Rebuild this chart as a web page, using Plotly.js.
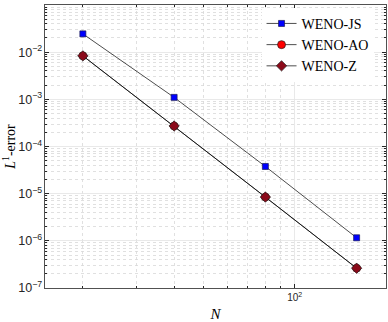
<!DOCTYPE html>
<html><head><meta charset="utf-8">
<script src="https://cdn.plot.ly/plotly-3.0.1.min.js"></script>
<style>body{margin:0;padding:0;background:#fff}#plot{width:388px;height:322px}</style>
</head><body><div id="plot"></div>
<script>
const N = [20, 40, 80, 160];
const errJS = [0.0244, 1.10e-3, 3.77e-5, 1.16e-6];
const errAO = [8.35e-3, 2.72e-4, 8.47e-6, 2.63e-7];
const errZ  = [8.35e-3, 2.72e-4, 8.47e-6, 2.63e-7];
const seriesNames = ['WENO-JS', 'WENO-AO', 'WENO-Z'];

const traces = [
  {x: N, y: errJS, name: seriesNames[0], mode: 'lines+markers',
   line: {color: '#000', width: 0.7},
   marker: {symbol: 'square', size: 6, color: '#0000ff', line: {color: '#1a1a55', width: 0.7}}},
  {x: N, y: errAO, name: seriesNames[1], mode: 'lines+markers',
   line: {color: '#000', width: 0.7},
   marker: {symbol: 'circle', size: 8, color: '#ff0000', line: {color: '#222', width: 0.7}}},
  {x: N, y: errZ, name: seriesNames[2], mode: 'lines+markers',
   line: {color: '#000', width: 0.7},
   marker: {symbol: 'diamond', size: 8, color: '#8b0a1a', line: {color: '#222', width: 0.7}}}
];

const tickFont = {family: 'Liberation Sans, Arial, sans-serif', size: 10, color: '#262626'};
const layout = {
  width: 388, height: 322,
  margin: {l: 45, r: 2, t: 5, b: 34},
  paper_bgcolor: '#fff', plot_bgcolor: '#fff',
  showlegend: true,
  legend: {x: 0.635, y: 0.99, xanchor: 'left', yanchor: 'top', bgcolor: '#fff',
           borderwidth: 0, font: {family: 'Liberation Serif, serif', size: 14, color: '#000'},
           itemwidth: 30, tracegroupgap: 0},
  xaxis: {type: 'log', range: [Math.log10(15), Math.log10(200)],
          tickvals: [100], ticktext: ['10<sup>2</sup>'],
          ticks: 'inside', ticklen: 4, tickcolor: '#262626',
          showline: true, linecolor: '#262626', linewidth: 0.8, mirror: 'allticks',
          showgrid: true, gridcolor: '#e3e3e3', gridwidth: 0.8,
          zeroline: false, tickfont: tickFont,
          minor: {tickvals: [20,30,40,50,60,70,80,90,200], ticks: 'inside', ticklen: 2,
                  tickcolor: '#262626', showgrid: true, gridcolor: '#d8d8d8', griddash: 'dot', gridwidth: 0.8},
          title: {text: '<i>N</i>', font: {family: 'Liberation Serif, serif', size: 15, color: '#000'}, standoff: 6}},
  yaxis: {type: 'log', range: [-7, -1], dtick: 1, exponentformat: 'power',
          ticks: 'inside', ticklen: 4, tickcolor: '#262626',
          showline: true, linecolor: '#262626', linewidth: 0.8, mirror: 'allticks',
          showgrid: true, gridcolor: '#e3e3e3', gridwidth: 0.8,
          zeroline: false, tickfont: tickFont,
          minor: {dtick: 'D1', ticks: 'inside', ticklen: 2, tickcolor: '#262626',
                  showgrid: true, gridcolor: '#d8d8d8', griddash: 'dot', gridwidth: 0.8},
          title: {text: '<i>L</i><sup>1</sup>-error', font: {family: 'Liberation Serif, serif', size: 14, color: '#000'}, standoff: 4}}
};
Plotly.newPlot('plot', traces, layout, {staticPlot: true});
</script></body></html>
